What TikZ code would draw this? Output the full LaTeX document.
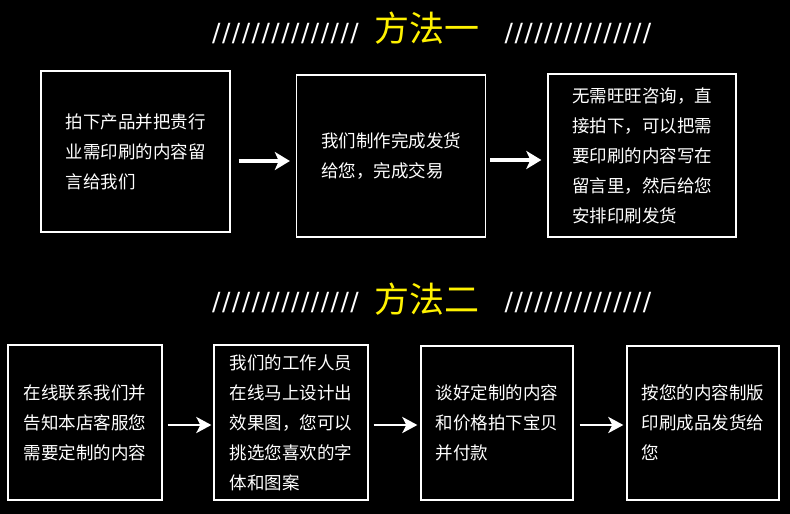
\documentclass[tikz,border=0pt]{standalone}
\usepackage{fontspec}
\newfontfamily\cjk{Noto Sans CJK SC}
\newfontfamily\slashfont{DejaVu Sans}
\usetikzlibrary{arrows.meta}
\definecolor{titleyellow}{HTML}{FFF200}
\newcommand{\slashrow}{/\kern1.45pt/\kern1.45pt/\kern1.45pt/\kern1.45pt/\kern1.45pt/\kern1.45pt/\kern1.45pt/\kern1.45pt/\kern1.45pt/\kern1.45pt/\kern1.45pt/\kern1.45pt/\kern1.45pt/\kern1.45pt/}
\begin{document}
\begin{tikzpicture}[x=1pt,y=-1pt,
  stepbox/.style={draw=white,line width=1.3pt,fill=black,text=white,align=left,
    inner sep=0pt,font=\cjk\fontsize{17.5}{30}\selectfont},
  titletext/.style={text=titleyellow,inner sep=0pt,font=\cjk\fontsize{35}{40}\selectfont},
  slashtext/.style={text=white,inner sep=0pt,font=\slashfont\fontsize{25}{28}\selectfont},
  arr/.style={draw=white,line width=3.2pt,-{Stealth[length=15pt,width=18pt,inset=4pt]}},
  arrsmall/.style={draw=white,line width=2.8pt,-{Stealth[length=15pt,width=16pt,inset=4pt]}}]
\useasboundingbox (0,0) rectangle (790,514);
\fill[black] (0,0) rectangle (790,514);

% titles
\node[slashtext] (s1l) at (285.5,34) {\slashrow};
\node[titletext] (t1) at (426.5,28) {方法一};
\node[slashtext] (s1r) at (578,34) {\slashrow};
\node[slashtext] (s2l) at (285.5,302.5) {\slashrow};
\node[titletext] (t2) at (426.5,299.5) {方法二};
\node[slashtext] (s2r) at (578,302.5) {\slashrow};

% row 1
\node[stepbox,minimum width=189pt,minimum height=161pt] (a1) at (135.5,151.5)
  {拍下产品并把贵行\\业需印刷的内容留\\言给我们};
\node[stepbox,minimum width=189pt,minimum height=162pt] (a2) at (391,156)
  {我们制作完成发货\\给您，完成交易};
\node[stepbox,minimum width=188pt,minimum height=163pt] (a3) at (642,155.5)
  {无需旺旺咨询，直\\接拍下，可以把需\\要印刷的内容写在\\留言里，然后给您\\安排印刷发货};
\draw[arr,shorten <=8pt,shorten >=6pt] (a1.east |- 0,161) -- (a2.west |- 0,161);
\draw[arr,shorten <=4pt,shorten >=6pt] (a2.east |- 0,160) -- (a3.west |- 0,160);

% row 2
\node[stepbox,minimum width=154pt,minimum height=155pt] (b1) at (85,422.5)
  {在线联系我们并\\告知本店客服您\\需要定制的内容};
\node[stepbox,minimum width=154pt,minimum height=155pt] (b2) at (291,422.5)
  {我们的工作人员\\在线马上设计出\\效果图，您可以\\挑选您喜欢的字\\体和图案};
\node[stepbox,minimum width=152pt,minimum height=154pt] (b3) at (497,423)
  {谈好定制的内容\\和价格拍下宝贝\\并付款};
\node[stepbox,minimum width=152pt,minimum height=154pt] (b4) at (703,423)
  {按您的内容制版\\印刷成品发货给\\您};
\draw[arrsmall,shorten <=5pt,shorten >=2pt] (b1.east |- 0,425) -- (b2.west |- 0,425);
\draw[arrsmall,shorten <=5pt,shorten >=3pt] (b2.east |- 0,425) -- (b3.west |- 0,425);
\draw[arrsmall,shorten <=6pt,shorten >=3pt] (b3.east |- 0,425) -- (b4.west |- 0,425);
\end{tikzpicture}
\end{document}
